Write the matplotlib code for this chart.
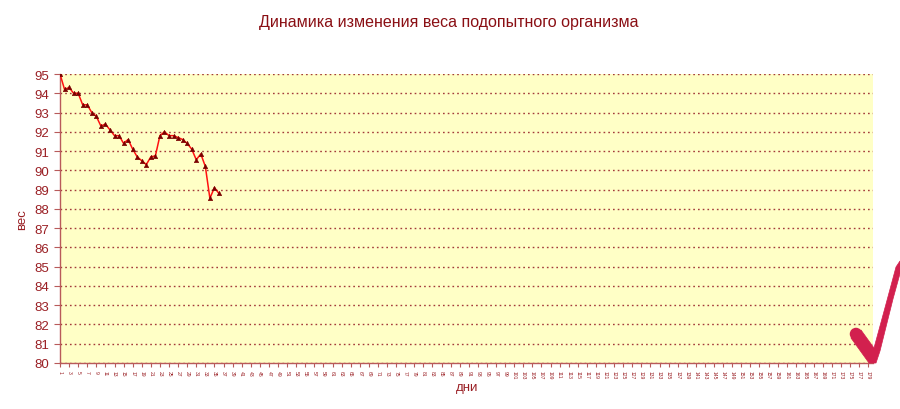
import matplotlib
matplotlib.use("Agg")
import matplotlib.pyplot as plt
from matplotlib.patches import Polygon, Ellipse

plt.rcParams['font.family'] = ['Liberation Sans', 'DejaVu Sans']

title = "Динамика изменения веса подопытного организма"
x_label = "дни"
y_label = "вес"
n_days = 180
weights = [95.0, 94.2, 94.3, 94.0, 94.0, 93.4, 93.4, 93.0, 92.8, 92.3,
           92.4, 92.1, 91.8, 91.8, 91.4, 91.6, 91.1, 90.7, 90.5, 90.3,
           90.7, 90.75, 91.8, 92.0, 91.8, 91.8, 91.7, 91.6, 91.4, 91.1,
           90.55, 90.85, 90.2, 88.55, 89.1, 88.8]
days = list(range(1, len(weights) + 1))
x_ticks = list(range(1, n_days + 1, 2))
y_ticks = list(range(80, 96))

W, H = 900, 410
fig = plt.figure(figsize=(W / 100, H / 100), dpi=100)
fig.patch.set_facecolor('white')
L, R, T, B = 60, 873, 75, 364
ax = fig.add_axes([L / W, 1 - B / H, (R - L) / W, (B - T) / H])
ax.set_facecolor('#FFFFC6')

txt = '#9A1F24'
axc = '#B85A5A'

ax.plot(days, weights, color='#FF1010', lw=1.1, zorder=3,
        marker='^', markersize=3.2, markerfacecolor='#7A0000',
        markeredgecolor='#7A0000', markeredgewidth=0.4)

ax.set_xlim(1, n_days)
ax.set_ylim(80, 95)
ax.set_yticks(y_ticks)
ax.set_yticklabels([str(v) for v in y_ticks], fontsize=9.5, color=txt)
ax.set_xticks(x_ticks)
ax.set_xticklabels([str(v) for v in x_ticks], fontsize=3.6, color=txt,
                   rotation=-90)
ax.tick_params(axis='x', length=3, color=axc, pad=2)
ax.tick_params(axis='y', length=4, color=axc, pad=4)

ax.yaxis.grid(True, linestyle=(0, (1.2, 2.2)), color='#A33A3A', lw=1.0)
ax.set_axisbelow(True)
for s in ['top', 'right']:
    ax.spines[s].set_visible(False)
for s in ['left', 'bottom']:
    ax.spines[s].set_color(axc)
    ax.spines[s].set_linewidth(1.0)

fig.text(449 / W, 1 - 22 / H, title, ha='center', va='center',
         fontsize=11.5, color='#8A0F14')
fig.text(22 / W, 1 - 220 / H, y_label, ha='center', va='center',
         rotation=90, fontsize=9.5, color=txt)
fig.text(467 / W, 1 - 388 / H, x_label, ha='center', va='center',
         fontsize=9.5, color=txt)

# decorative check mark
def fp(x, y):
    return (x / W, 1 - y / H)

check_col = '#D2204E'
check = [(851, 339), (861, 331), (874, 349), (886, 305), (896, 268),
         (900, 262), (901, 271), (893, 300), (880, 352), (876, 364),
         (869, 364)]
fig.patches.append(Polygon([fp(x, y) for x, y in check], closed=True,
                           transform=fig.transFigure, facecolor=check_col,
                           edgecolor=check_col, lw=0.5, zorder=10))
fig.patches.append(Ellipse(fp(856, 335), 12.5 / W, 12.5 / H,
                           transform=fig.transFigure, facecolor=check_col,
                           edgecolor='none', zorder=10))

fig.savefig('out.png', dpi=100, facecolor='white')
